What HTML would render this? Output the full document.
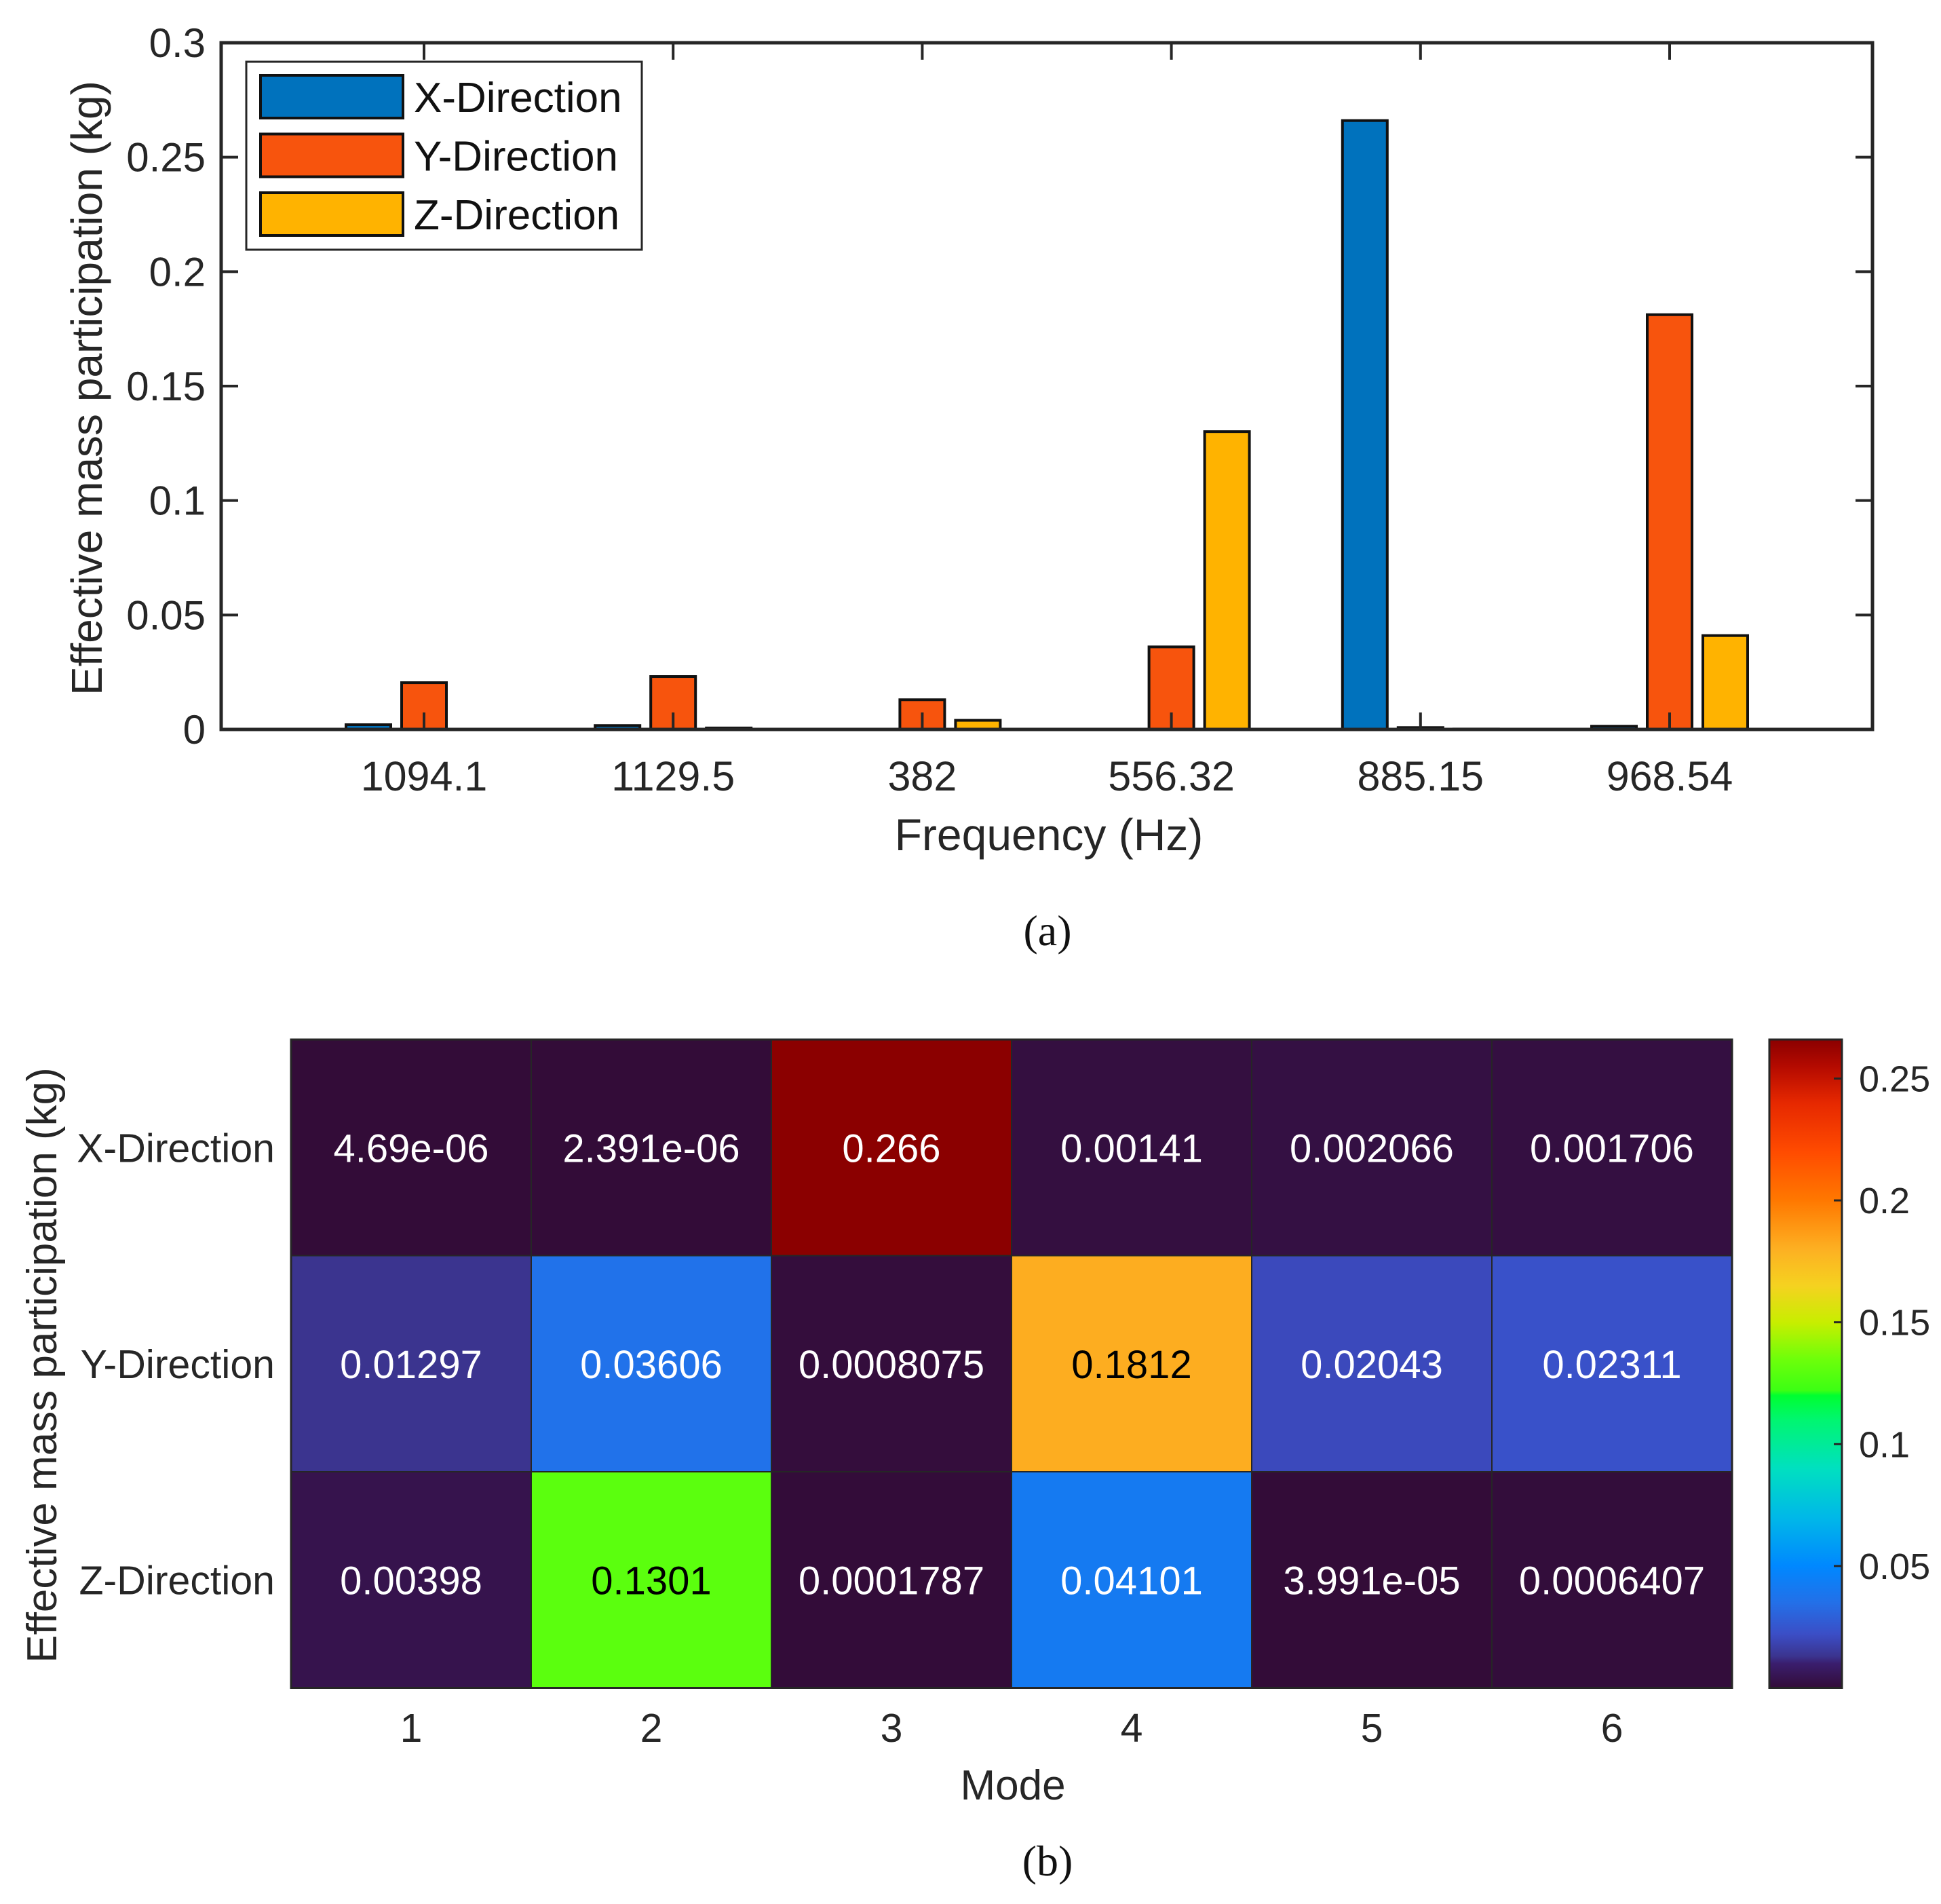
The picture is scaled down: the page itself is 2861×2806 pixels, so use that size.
<!DOCTYPE html>
<html><head><meta charset="utf-8"><style>
html,body{margin:0;padding:0;background:#fff}
svg{display:block;font-family:"Liberation Sans",Arial,sans-serif}
</style></head><body>
<svg id="fig" width="2861" height="2806" viewBox="0 0 2861 2806" xmlns="http://www.w3.org/2000/svg">
<g id="barChart"></g>
<g id="heatChart"></g>
</svg>
<script>
// ---- Bar chart data ----
const freqLabels = ["1094.1","1129.5","382","556.32","885.15","968.54"];
const xDir = [0.002066,0.001706,0.0000047,0.00000239,0.266,0.00141];
const yDir = [0.02043,0.02311,0.01297,0.03606,0.0008075,0.1812];
const zDir = [0.0000399,0.00064,0.00398,0.1301,0.000179,0.04101];
const yTicks = [0,0.05,0.1,0.15,0.2,0.25,0.3];
const yTickLabels = ["0","0.05","0.1","0.15","0.2","0.25","0.3"];
// ---- Heatmap data ----
const modes = ["1","2","3","4","5","6"];
const dirs = ["X-Direction","Y-Direction","Z-Direction"];
const heatX = [4.69e-06,2.391e-06,0.266,0.00141,0.002066,0.001706];
const heatY = [0.01297,0.03606,0.0008075,0.1812,0.02043,0.02311];
const heatZ = [0.00398,0.1301,0.0001787,0.04101,3.991e-05,0.0006407];
const heatLabelsX = ["4.69e-06","2.391e-06","0.266","0.00141","0.002066","0.001706"];
const heatLabelsY = ["0.01297","0.03606","0.0008075","0.1812","0.02043","0.02311"];
const heatLabelsZ = ["0.00398","0.1301","0.0001787","0.04101","3.991e-05","0.0006407"];
const cbTicks = [0.05,0.1,0.15,0.2,0.25];
const cbTickLabels = ["0.05","0.1","0.15","0.2","0.25"];

const NS="http://www.w3.org/2000/svg";
function mk(tag,attrs,parent,text){const e=document.createElementNS(NS,tag);for(const k in attrs)e.setAttribute(k,attrs[k]);if(text!==undefined)e.textContent=text;parent.appendChild(e);return e;}

// ===== Bar chart =====
const bc=document.getElementById('barChart');
const L=326,R=2760,T=63,B=1075;
const xs=i=>625+i*367.2;
const ys=v=>B-(v/0.3)*(B-T);
const bw=66, off=82;
const series=[{d:xDir,c:"#0072bd",n:"x"},{d:yDir,c:"#f7540d",n:"y"},{d:zDir,c:"#ffb300",n:"z"}];
series.forEach((s,si)=>{s.d.forEach((v,i)=>{
  const cx=xs(i)+(si-1)*off; const y=ys(v);
  const r=mk('rect',{x:cx-bw/2,y:y,width:bw,height:Math.max(B-y,0.5),fill:s.c,stroke:"#111",'stroke-width':4},bc);
  
  
});});
const ax=mk('rect',{x:L,y:T,width:R-L,height:B-T,fill:"none",stroke:"#262626",'stroke-width':5},bc);


yTicks.forEach((v,i)=>{
  const y=ys(v);
  mk('line',{x1:L,x2:L+25,y1:y,y2:y,stroke:"#262626",'stroke-width':4},bc);
  mk('line',{x1:R-25,x2:R,y1:y,y2:y,stroke:"#262626",'stroke-width':4},bc);
  const t=mk('text',{x:303,y:y+21,'text-anchor':'end','font-size':60,fill:"#262626"},bc,yTickLabels[i]);
  
  
});
freqLabels.forEach((f,i)=>{
  const x=xs(i);
  mk('line',{x1:x,x2:x,y1:B,y2:B-25,stroke:"#262626",'stroke-width':4},bc);
  mk('line',{x1:x,x2:x,y1:T,y2:T+25,stroke:"#262626",'stroke-width':4},bc);
  const t=mk('text',{x:x,y:1165,'text-anchor':'middle','font-size':61,fill:"#262626"},bc,f);
  
  
});
let t=mk('text',{x:1546,y:1253,'text-anchor':'middle','font-size':66,fill:"#262626"},bc,"Frequency (Hz)");


t=mk('text',{x:0,y:0,'text-anchor':'middle','font-size':64,fill:"#262626",transform:"translate(150,572) rotate(-90)"},bc,"Effective mass participation (kg)");


const lg=mk('g',{},bc);


mk('rect',{x:363,y:91,width:583,height:277,fill:"#fff",stroke:"#262626",'stroke-width':3},lg);
["X-Direction","Y-Direction","Z-Direction"].forEach((n,i)=>{
  const y=111+i*86.5;
  const sw=mk('rect',{x:384,y:y,width:210,height:63,fill:series[i].c,stroke:"#111",'stroke-width':4},lg);
  
  
  const tt=mk('text',{x:610,y:y+54,'font-size':62,fill:"#111"},lg,n);
  
  
});
t=mk('text',{x:1544,y:1393,'text-anchor':'middle','font-size':64,fill:"#111",'font-family':'"Liberation Serif",serif'},bc,"(a)");



// ===== Heatmap =====
const hc=document.getElementById('heatChart');
const HL=429,HT=1532,CW=354,CH=318.5;
const vmin=2.391e-06,vmax=0.266;
const stops=[[0,[51,12,56]],[0.01,[58,30,110]],[0.013,[59,52,143]],[0.022,[59,78,198]],[0.035,[35,112,232]],[0.05,[0,136,255]],[0.07,[0,184,232]],[0.09,[0,224,192]],[0.11,[0,246,112]],[0.12,[0,255,48]],[0.122,[60,255,20]],[0.135,[110,255,10]],[0.15,[200,238,0]],[0.165,[245,210,32]],[0.18,[253,176,34]],[0.2,[255,120,0]],[0.22,[255,75,0]],[0.24,[230,40,0]],[0.255,[180,10,0]],[0.266,[139,0,0]]];
function cmap(v){
  if(v<=stops[0][0])return stops[0][1];
  for(let i=1;i<stops.length;i++){if(v<=stops[i][0]){const a=stops[i-1],b=stops[i];const f=(v-a[0])/(b[0]-a[0]);return a[1].map((c,k)=>Math.round(c+(b[1][k]-c)*f));}}
  return stops[stops.length-1][1];
}
const rgb=c=>`rgb(${c[0]},${c[1]},${c[2]})`;
const rows=[heatX,heatY,heatZ], rowLabels=[heatLabelsX,heatLabelsY,heatLabelsZ];
rows.forEach((row,r)=>{row.forEach((v,c)=>{
  const x=HL+c*CW,y=HT+r*CH;
  const cell=mk('rect',{x:x,y:y,width:CW,height:CH,fill:rgb(cmap(v)),stroke:"#262626",'stroke-width':2},hc);
  
  
  const dark=(v>0.1&&v<0.2);
  const tx=mk('text',{x:x+CW/2,y:y+CH/2+21,'text-anchor':'middle','font-size':58,fill:dark?"#000":"#fff"},hc,rowLabels[r][c]);
  
  
});});
mk('rect',{x:HL,y:HT,width:CW*6,height:CH*3,fill:"none",stroke:"#262626",'stroke-width':3},hc);
dirs.forEach((d,r)=>{
  const tt=mk('text',{x:405,y:HT+r*CH+CH/2+21,'text-anchor':'end','font-size':59,fill:"#262626"},hc,d);
  
  
});
modes.forEach((m,c)=>{
  const tt=mk('text',{x:HL+c*CW+CW/2,y:2567,'text-anchor':'middle','font-size':59,fill:"#262626"},hc,m);
  
  
});
t=mk('text',{x:1493,y:2652,'text-anchor':'middle','font-size':62,fill:"#262626"},hc,"Mode");


t=mk('text',{x:0,y:0,'text-anchor':'middle','font-size':62,fill:"#262626",transform:"translate(83,2012) rotate(-90)"},hc,"Effective mass participation (kg)");


// colorbar
const CBX=2608,CBW=107,CBT=HT,CBB=HT+CH*3;
const defs=mk('defs',{},hc);
const grad=mk('linearGradient',{id:'cbg',x1:0,y1:1,x2:0,y2:0},defs);
stops.forEach(s=>{mk('stop',{offset:((s[0]-vmin)/(vmax-vmin)).toFixed(4),'stop-color':rgb(s[1])},grad);});
const cb=mk('rect',{x:CBX,y:CBT,width:CBW,height:CBB-CBT,fill:"url(#cbg)",stroke:"#262626",'stroke-width':3},hc);


const cy=v=>CBB-(v-vmin)/(vmax-vmin)*(CBB-CBT);
cbTicks.forEach((v,i)=>{
  const y=cy(v);
  mk('line',{x1:CBX+CBW-12,x2:CBX+CBW,y1:y,y2:y,stroke:"#262626",'stroke-width':3},hc);
  const tt=mk('text',{x:2740,y:y+19,'font-size':54,fill:"#262626"},hc,cbTickLabels[i]);
  
  
});
t=mk('text',{x:1544,y:2764,'text-anchor':'middle','font-size':64,fill:"#111",'font-family':'"Liberation Serif",serif'},hc,"(b)");


</script>
</body></html>
